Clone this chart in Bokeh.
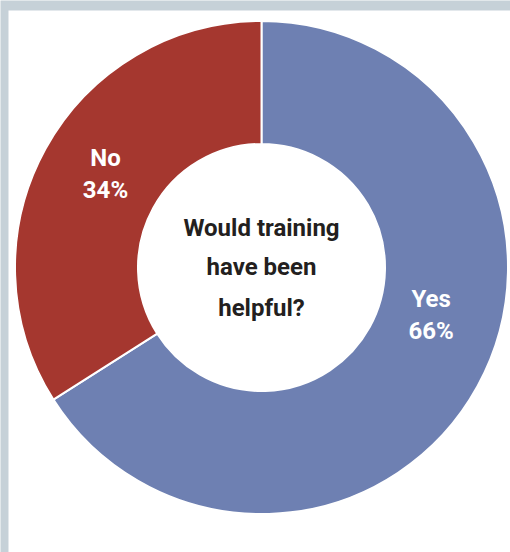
import math
from bokeh.plotting import figure
from bokeh.models import Range1d, ColumnDataSource
from bokeh.core.properties import value
from bokeh.embed import file_html
from bokeh.resources import INLINE

# Data
categories = ["Yes", "No"]
percents = [66, 34]
colors = ["#6E80B2", "#A5372F"]
center_lines = ["Would training", "have been", "helpful?"]
# label placement (angle in degrees from +x, radius in px) - styling only
label_angles = [-15.5, 149.0]
label_radius = [176, 182]

W, H = 510, 552
cx, cy = 261, H - 267
r_out, r_in = 246.5, 123.5

p = figure(width=W, height=H, x_range=Range1d(0, W), y_range=Range1d(0, H),
           output_backend="svg", toolbar_location=None, min_border=0)
p.axis.visible = False
p.grid.visible = False
p.outline_line_color = None
p.background_fill_color = "#C6D1D8"
p.border_fill_color = "#C6D1D8"

# white panel
p.quad(left=[8], right=[W], bottom=[0], top=[H - 10], fill_color="white", line_color=None)

# wedges: start at 12 o'clock, Yes clockwise, No the rest
total = sum(percents)
yes_span = percents[0] / total * 360
starts = [math.radians(90 - yes_span), math.radians(90)]
ends = [math.radians(90), math.radians(90 + percents[1] / total * 360)]

src = ColumnDataSource(dict(cat=categories, start=starts, end=ends, color=colors))
p.annular_wedge(x=cx, y=cy, inner_radius=r_in, outer_radius=r_out,
                start_angle="start", end_angle="end", fill_color="color",
                line_color="white", line_width=2, source=src)

# slice labels
for cat, pct, ang, rad in zip(categories, percents, label_angles, label_radius):
    lx = cx + rad * math.cos(math.radians(ang))
    ly = cy + rad * math.sin(math.radians(ang))
    p.text(x=[lx, lx], y=[ly + 16, ly - 16], text=[cat, f"{pct}%"],
           text_align="center", text_baseline="middle", text_color="white",
           text_font=value("Roboto"), text_font_style="bold", text_font_size="24px")

# center text
ys = [cy + 40, cy + 1, cy - 40]
p.text(x=[cx] * 3, y=ys, text=center_lines, text_align="center", text_baseline="middle",
       text_color="#231F20", text_font=value("Roboto"),
       text_font_style="bold", text_font_size="24px")

open("out.html", "w").write(file_html(p, INLINE))
